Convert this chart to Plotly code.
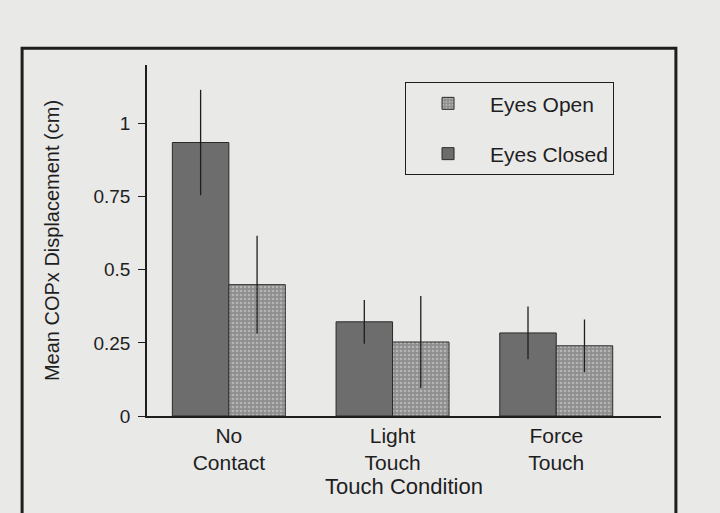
import plotly.graph_objects as go

# Values
conditions = ["No<br>Contact", "Light<br>Touch", "Force<br>Touch"]
eyes_closed = [0.935, 0.322, 0.284]
eyes_closed_err = [0.18, 0.075, 0.09]
eyes_open = [0.449, 0.253, 0.24]
eyes_open_err = [0.167, 0.157, 0.09]

y_ticks = [0, 0.25, 0.5, 0.75, 1]
y_tick_text = ["0", "0.25", "0.5", "0.75", "1"]

PAPER = "#e9e9e8"
INK = "#1e1e1e"
FONT = "Liberation Sans, Arial, sans-serif"

fig = go.Figure()
fig.add_trace(go.Bar(
    x=conditions, y=eyes_closed, name="Eyes Closed",
    legendgroup="closed", legendrank=2,
    marker=dict(color="#6d6d6d", line=dict(color="#2a2a2a", width=1)),
    error_y=dict(type="data", array=eyes_closed_err, symmetric=True,
                 width=0, thickness=1.3, color=INK),
))
fig.add_trace(go.Bar(
    x=conditions, y=eyes_open, name="Eyes Open",
    legendgroup="open", legendrank=1,
    marker=dict(
        color="#a0a0a0", line=dict(color="#2a2a2a", width=1),
        pattern=dict(shape=".", fgcolor="#dadada", bgcolor="#8e8e8e",
                     size=4, solidity=0.35, fillmode="overlay"),
    ),
    error_y=dict(type="data", array=eyes_open_err, symmetric=True,
                 width=0, thickness=1.3, color=INK),
))

fig.update_layout(
    width=720, height=513,
    barmode="group", bargap=0.31, bargroupgap=0,
    paper_bgcolor=PAPER, plot_bgcolor=PAPER,
    font=dict(family=FONT, color=INK, size=18),
    margin=dict(l=147, r=59, t=65, b=97),
    legend=dict(
        x=0.502, y=0.951, xanchor="left", yanchor="top",
        bgcolor=PAPER, bordercolor=INK, borderwidth=1,
        font=dict(size=21), traceorder="grouped",
        tracegroupgap=20, itemwidth=74,
    ),
    xaxis=dict(
        range=[-0.5, 2.64], showline=True, linecolor=INK, linewidth=1.5,
        ticks="", showgrid=False, tickfont=dict(size=21), automargin=False,
        title=dict(text="Touch Condition", font=dict(size=22), standoff=3),
    ),
    yaxis=dict(
        range=[0, 1.2], showline=True, linecolor=INK, linewidth=1.5,
        tickvals=y_ticks, ticktext=y_tick_text, ticks="outside",
        ticklen=7, tickcolor=INK, showgrid=False, zeroline=False,
        tickfont=dict(size=19), automargin=False, ticklabelstandoff=4,
        title=dict(text="Mean COPx Displacement (cm)", font=dict(size=20),
                   standoff=28),
    ),
)

# outer frame of the scanned figure, open at the bottom edge of the page
fig.add_shape(type="rect", xref="paper", yref="paper",
              x0=-0.243, x1=1.029, y0=-0.35, y1=1.048,
              line=dict(color=INK, width=3), layer="below")

fig.write_html("out.html", config={"displayModeBar": False},
               post_script="document.body.style.margin='0';")
